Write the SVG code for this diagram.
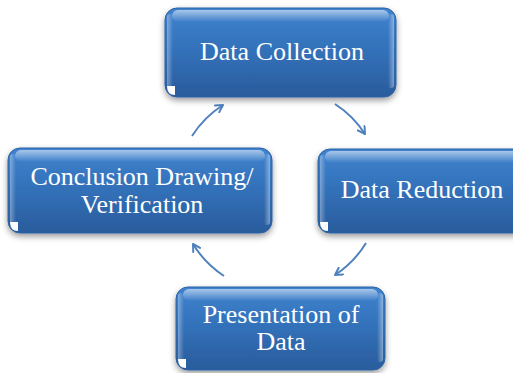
<svg xmlns="http://www.w3.org/2000/svg" width="513" height="373" viewBox="0 0 513 373">
  <defs>
    <linearGradient id="body" x1="0" y1="0" x2="0" y2="1">
      <stop offset="0" stop-color="#3f83cf"/>
      <stop offset="0.5" stop-color="#3270b8"/>
      <stop offset="1" stop-color="#2a5c9c"/>
    </linearGradient>
    <linearGradient id="gloss" x1="0" y1="0" x2="0" y2="1">
      <stop offset="0" stop-color="#ffffff" stop-opacity="0.55"/>
      <stop offset="1" stop-color="#ffffff" stop-opacity="0"/>
    </linearGradient>
    <linearGradient id="sideL" x1="0" y1="0" x2="1" y2="0">
      <stop offset="0" stop-color="#ffffff" stop-opacity="0.35"/>
      <stop offset="1" stop-color="#ffffff" stop-opacity="0"/>
    </linearGradient>
    <linearGradient id="sideR" x1="1" y1="0" x2="0" y2="0">
      <stop offset="0" stop-color="#ffffff" stop-opacity="0.4"/>
      <stop offset="1" stop-color="#ffffff" stop-opacity="0"/>
    </linearGradient>
    <filter id="shadow" x="-10%" y="-10%" width="120%" height="130%">
      <feDropShadow dx="0" dy="3" stdDeviation="3" flood-color="#000000" flood-opacity="0.4"/>
    </filter>
    <marker id="head" viewBox="0 0 10 10" refX="8" refY="5" markerWidth="10" markerHeight="10" markerUnits="userSpaceOnUse" orient="auto">
      <path d="M1,1 L8,5 L1,9" fill="none" stroke="#4f81bd" stroke-width="2" stroke-linecap="round" stroke-linejoin="round"/>
    </marker>
  </defs>
  <style>
    .box { fill: url(#body); stroke: #2d62a6; stroke-width: 1; filter: url(#shadow); }
    .gloss { fill: url(#gloss); }
    .sl { fill: url(#sideL); }
    .sr { fill: url(#sideR); }
    .corner { fill: #ffffff; }
    .label { font-family: "Liberation Serif", "Times New Roman", serif; font-size: 26px; fill: #ffffff; text-anchor: middle; }
    .arrow { fill: none; stroke: #4f81bd; stroke-width: 2; marker-end: url(#head); }
  </style>
  <rect width="513" height="373" fill="#ffffff"/>

  <g id="connectors">
    <path class="arrow" d="M335,104 A102,102 0 0 1 365,134"/>
    <path class="arrow" d="M366,243 A102,102 0 0 1 335,275"/>
    <path class="arrow" d="M224,276 A102,102 0 0 1 193,244"/>
    <path class="arrow" d="M192,136 A102,102 0 0 1 223,105"/>
  </g>

  <g id="node-data-collection">
    <rect class="box" x="165" y="8" width="231" height="89" rx="12"/>
    <rect class="gloss" x="172" y="10" width="217" height="12" rx="6"/>
    <rect class="sl" x="167" y="14" width="6" height="74" rx="3"/>
    <rect class="sr" x="388" y="14" width="6" height="74" rx="3"/>
    <path class="corner" d="M167,86 L175,86 L175,95 Q167,95 167,86 Z"/>
    <text class="label" x="282" y="60">Data Collection</text>
  </g>

  <g id="node-data-reduction">
    <rect class="box" x="318" y="149" width="212" height="84" rx="12"/>
    <rect class="gloss" x="325" y="151" width="198" height="12" rx="6"/>
    <rect class="sl" x="320" y="155" width="6" height="70" rx="3"/>
    <path class="corner" d="M320,222 L328,222 L328,231 Q320,231 320,222 Z"/>
    <text class="label" x="422" y="198">Data Reduction</text>
  </g>

  <g id="node-presentation">
    <rect class="box" x="176" y="287" width="209" height="83" rx="12"/>
    <rect class="gloss" x="183" y="289" width="195" height="12" rx="6"/>
    <rect class="sl" x="178" y="293" width="6" height="69" rx="3"/>
    <rect class="sr" x="377" y="293" width="6" height="69" rx="3"/>
    <path class="corner" d="M178,359 L186,359 L186,368 Q178,368 178,359 Z"/>
    <text class="label" x="281" y="323">Presentation of</text>
    <text class="label" x="281" y="350">Data</text>
  </g>

  <g id="node-conclusion">
    <rect class="box" x="8" y="148" width="264" height="85" rx="12"/>
    <rect class="gloss" x="15" y="150" width="250" height="12" rx="6"/>
    <rect class="sl" x="10" y="154" width="6" height="71" rx="3"/>
    <rect class="sr" x="264" y="154" width="6" height="71" rx="3"/>
    <path class="corner" d="M10,222 L18,222 L18,231 Q10,231 10,222 Z"/>
    <text class="label" x="142" y="185">Conclusion Drawing/</text>
    <text class="label" x="142" y="213">Verification</text>
  </g>
</svg>
